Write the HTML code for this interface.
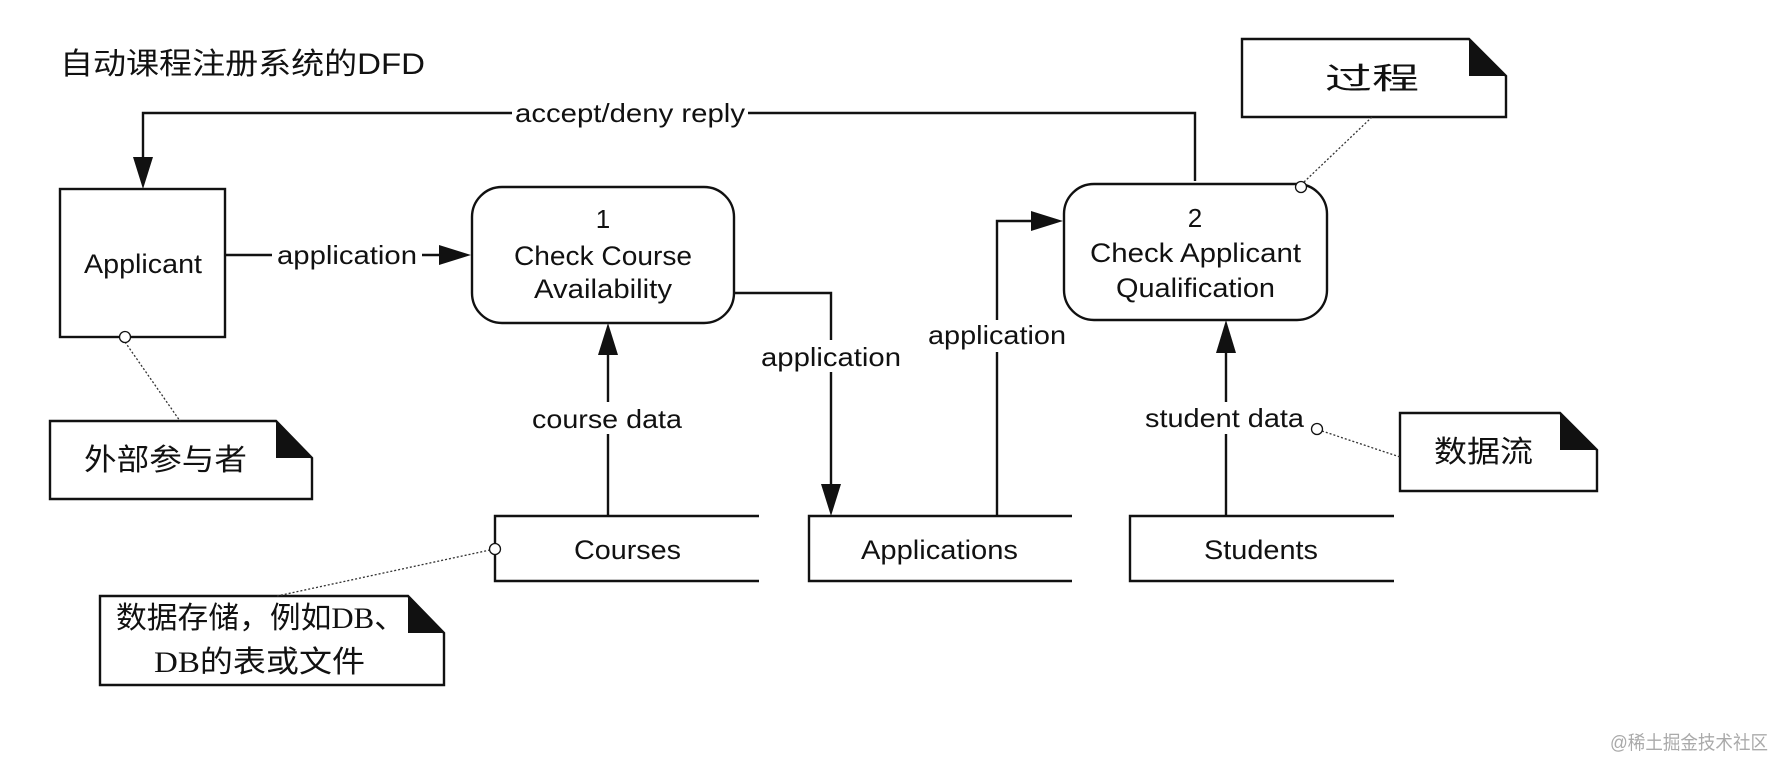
<!DOCTYPE html>
<html><head><meta charset="utf-8"><style>
html,body{margin:0;padding:0;background:#fff;}
svg{display:block;}
text{font-family:"Liberation Sans","Noto Sans CJK SC",sans-serif;fill:#111;}
.c{text-anchor:middle;}
</style></head><body>
<svg width="1776" height="758" viewBox="0 0 1776 758" xmlns="http://www.w3.org/2000/svg">
<g stroke="#111" stroke-width="2.4" fill="none">
<polyline points="1195,181 1195,113 143,113 143,160"/>
<rect x="60" y="189" width="165" height="148"/>
<line x1="225" y1="255" x2="442" y2="255"/>
<rect x="472" y="187" width="262" height="136" rx="30" ry="30"/>
<rect x="1064" y="184" width="263" height="136" rx="30" ry="30"/>
<polyline points="734,293 831,293 831,486"/>
<line x1="608" y1="352" x2="608" y2="516"/>
<polyline points="997,516 997,221 1034,221"/>
<line x1="1226" y1="350" x2="1226" y2="516"/>
<polyline points="759,516 495,516 495,581 759,581"/>
<polyline points="1072,516 809,516 809,581 1072,581"/>
<polyline points="1394,516 1130,516 1130,581 1394,581"/>
<polygon points="1242,39 1469,39 1506,76 1506,117 1242,117"/>
<polygon points="50,421 276,421 312,458 312,499 50,499"/>
<polygon points="100,596 408,596 444,633 444,685 100,685"/>
<polygon points="1400,413 1560,413 1597,450 1597,491 1400,491"/>
</g>
<g fill="#111">
<polygon points="133,157 153,157 143,189"/>
<polygon points="439,245 439,265 471,255"/>
<polygon points="598,355 618,355 608,323"/>
<polygon points="821,484 841,484 831,516"/>
<polygon points="1031,211 1031,231 1063,221"/>
<polygon points="1216,353 1236,353 1226,320"/>
<polygon points="1469,39 1506,76 1469,76"/>
<polygon points="276,421 312,458 276,458"/>
<polygon points="408,596 444,633 408,633"/>
<polygon points="1560,413 1597,450 1560,450"/>
</g>
<g fill="#fff">
<rect x="512" y="100" width="236" height="28"/>
<rect x="272" y="240" width="150" height="30"/>
<rect x="528" y="402" width="158" height="32"/>
<rect x="756" y="340" width="150" height="32"/>
<rect x="924" y="320" width="146" height="32"/>
<rect x="1141" y="402" width="167" height="32"/>
</g>
<g stroke="#333" stroke-width="1.3" stroke-dasharray="2,2" fill="none">
<line x1="125" y1="342" x2="180" y2="421"/>
<line x1="490" y1="550" x2="277" y2="596"/>
<line x1="1304" y1="182" x2="1372" y2="117"/>
<line x1="1322" y1="431" x2="1400" y2="457"/>
</g>
<g stroke="#111" stroke-width="1.3" fill="#fff">
<circle cx="125" cy="337" r="5.5"/>
<circle cx="495" cy="549" r="5.5"/>
<circle cx="1301" cy="187" r="5.5"/>
<circle cx="1317" cy="429" r="5.5"/>
</g>
<text x="60" y="74" font-size="30" textLength="365" lengthAdjust="spacingAndGlyphs">自动课程注册系统的DFD</text>
<text x="515" y="122" font-size="26" textLength="230" lengthAdjust="spacingAndGlyphs">accept/deny reply</text>
<text x="84" y="273" font-size="27" textLength="118" lengthAdjust="spacingAndGlyphs">Applicant</text>
<text x="277" y="264" font-size="26" textLength="140" lengthAdjust="spacingAndGlyphs">application</text>
<text x="603" y="228" font-size="26" class="c">1</text>
<text x="514" y="265" font-size="27" textLength="178" lengthAdjust="spacingAndGlyphs">Check Course</text>
<text x="534" y="298" font-size="27" textLength="138" lengthAdjust="spacingAndGlyphs">Availability</text>
<text x="1195" y="227" font-size="26" class="c">2</text>
<text x="1090" y="262" font-size="27" textLength="211" lengthAdjust="spacingAndGlyphs">Check Applicant</text>
<text x="1116" y="297" font-size="27" textLength="159" lengthAdjust="spacingAndGlyphs">Qualification</text>
<text x="532" y="428" font-size="26" textLength="150" lengthAdjust="spacingAndGlyphs">course data</text>
<text x="761" y="366" font-size="26" textLength="140" lengthAdjust="spacingAndGlyphs">application</text>
<text x="928" y="344" font-size="26" textLength="138" lengthAdjust="spacingAndGlyphs">application</text>
<text x="1145" y="427" font-size="26" textLength="159" lengthAdjust="spacingAndGlyphs">student data</text>
<text x="574" y="559" font-size="27" textLength="107" lengthAdjust="spacingAndGlyphs">Courses</text>
<text x="861" y="559" font-size="27" textLength="157" lengthAdjust="spacingAndGlyphs">Applications</text>
<text x="1204" y="559" font-size="27" textLength="114" lengthAdjust="spacingAndGlyphs">Students</text>
<text x="1325" y="89" font-size="30" textLength="94" lengthAdjust="spacingAndGlyphs">过程</text>
<text x="84" y="470" font-size="30" textLength="163" lengthAdjust="spacingAndGlyphs">外部参与者</text>
<text x="1434" y="462" font-size="30" textLength="99" lengthAdjust="spacingAndGlyphs">数据流</text>
<text x="116" y="628" font-size="30" textLength="289" lengthAdjust="spacingAndGlyphs">数据存储，例如<tspan font-family="Liberation Serif,serif">DB</tspan>、</text>
<text x="154" y="672" font-size="30" textLength="211" lengthAdjust="spacingAndGlyphs"><tspan font-family="Liberation Serif,serif">DB</tspan>的表或文件</text>
<text x="1610" y="749" font-size="19" style="fill:#aaa" textLength="158" lengthAdjust="spacingAndGlyphs">@稀土掘金技术社区</text>
</svg>
</body></html>
